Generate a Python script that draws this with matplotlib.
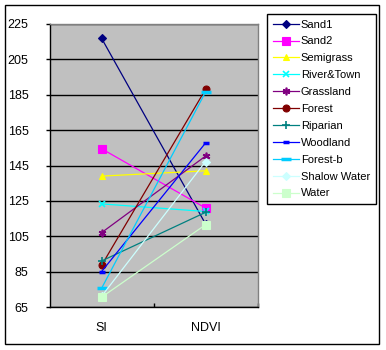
import numpy as np
import matplotlib
matplotlib.use('Agg')
from matplotlib import pyplot as plt
from matplotlib.patches import Rectangle

plt.rcParams['font.family'] = ['Liberation Sans', 'DejaVu Sans']

categories = ['SI', 'NDVI']
names = ['Sand1', 'Sand2', 'Semigrass', 'River&Town', 'Grassland', 'Forest',
         'Riparian', 'Woodland', 'Forest-b', 'Shalow Water', 'Water']
sand1 = [217, 112]
sand2 = [154.5, 121]
semigrass = [139, 142]
river_town = [123.3, 119]
grassland = [107, 150.3]
forest = [88.5, 188]
riparian = [91, 118.5]
woodland = [85, 157.7]
forest_b = [75.5, 186.5]
shalow_water = [71, 147.2]
water = [70.5, 111.5]
y_ticks = [65, 85, 105, 125, 145, 165, 185, 205, 225]

series = [sand1, sand2, semigrass, river_town, grassland, forest,
          riparian, woodland, forest_b, shalow_water, water]
colors = ['#000080', '#FF00FF', '#FFFF00', '#00FFFF', '#800080', '#800000',
          '#008080', '#0000FF', '#00CCFF', '#CCFFFF', '#CCFFCC']
markers = ['D', 's', '^', 'x', (6, 2, 0), 'o', '+', '_', '_', 'D', 's']
msizes = [4.5, 5.5, 5, 4, 5.5, 5, 6, 4, 7, 4.5, 5.5]

fig = plt.figure(figsize=(3.86, 3.5), dpi=100)
fig.patches.append(Rectangle((5 / 386, 1 - 344 / 350), 374 / 386, 339 / 350,
                             transform=fig.transFigure, fill=False,
                             edgecolor='black', linewidth=1))

ax = fig.add_axes([49.5 / 386, 43 / 350, 208 / 386, 283 / 350])
ax.set_facecolor('#C0C0C0')
x = np.arange(len(categories))
for vals, name, c, m, ms in zip(series, names, colors, markers, msizes):
    mew = 1.2 if m in ('+', 'x') or isinstance(m, tuple) else 0.8
    if m == '_':
        mew = 2.5
    ax.plot(x, vals, color=c, marker=m, markersize=ms, markeredgewidth=mew,
            markerfacecolor=c, markeredgecolor=c, linewidth=0.9, label=name)

ax.set_xlim(-0.5, 1.5)
ax.set_ylim(65, 225)
ax.set_yticks(y_ticks)
ax.set_yticklabels([str(t) for t in y_ticks], fontsize=9)
ax.yaxis.grid(True, color='black', linewidth=1)
ax.set_axisbelow(True)
ax.set_xticks(x)
ax.set_xticklabels(categories, fontsize=9)
ax.set_xticks([0.5, 1.5], minor=True)
ax.tick_params(axis='x', which='major', length=0, pad=11)
ax.tick_params(axis='x', which='minor', direction='in', length=3, width=1)
ax.tick_params(axis='y', direction='out', length=3, width=1, pad=12)
for s in ['top', 'right']:
    ax.spines[s].set_color('#808080')
for s in ['left', 'bottom']:
    ax.spines[s].set_color('black')
for s in ax.spines.values():
    s.set_linewidth(1)

leg = fig.legend(loc='upper left', bbox_to_anchor=(267 / 386, 1 - 14 / 350),
                 fontsize=8, frameon=True, fancybox=False, framealpha=1,
                 edgecolor='black', handlelength=2.4, handletextpad=0.15,
                 labelspacing=0.62, borderpad=0.5, borderaxespad=0)
leg.get_frame().set_linewidth(1)

fig.savefig('out.png', dpi=100)
